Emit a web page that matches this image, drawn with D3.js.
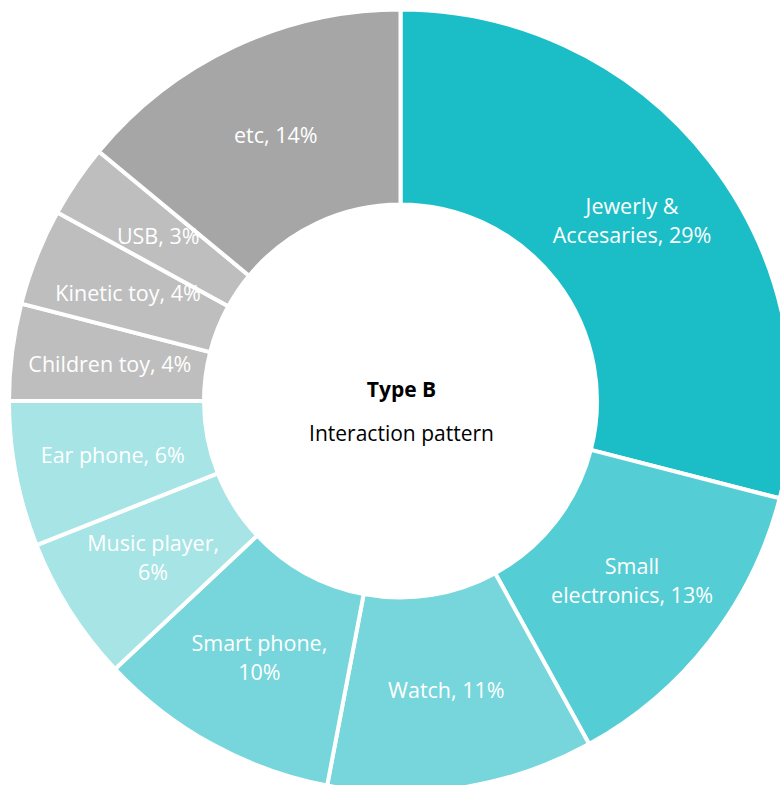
<!DOCTYPE html>
<html>
<head>
<meta charset="utf-8">
<script src="https://cdn.jsdelivr.net/npm/d3@7"></script>
<style>
  html, body { margin: 0; padding: 0; background: #fff; }
  svg { display: block; }
</style>
</head>
<body>
<svg id="chart" width="780" height="785"></svg>
<script>
// Share of products by category (percent)
const categories = [
  ["Jewerly &", "Accesaries, 29%"],
  ["Small", "electronics, 13%"],
  ["Watch, 11%"],
  ["Smart phone,", "10%"],
  ["Music player,", "6%"],
  ["Ear phone, 6%"],
  ["Children toy, 4%"],
  ["Kinetic toy, 4%"],
  ["USB, 3%"],
  ["etc, 14%"]
];
const values = [29, 13, 11, 10, 6, 6, 4, 4, 3, 14];
const colors = ["#1bbec6", "#55cdd4", "#76d6db", "#76d6db", "#a6e4e6",
                "#a6e4e6", "#bebebe", "#bebebe", "#bebebe", "#a6a6a6"];
const centerTitle = "Type B";
const centerSubtitle = "Interaction pattern";

const svg = d3.select("#chart");
const cx = 400.5, cy = 401;
const outerR = 391.5, innerR = 196.5;
const labelR = 293;

const g = svg.append("g").attr("transform", `translate(${cx},${cy})`);

const pie = d3.pie().sort(null).value(d => d)(values);
const arc = d3.arc().innerRadius(innerR).outerRadius(outerR);
const labelArc = d3.arc().innerRadius(labelR).outerRadius(labelR);

g.selectAll("path.slice")
  .data(pie)
  .join("path")
  .attr("class", "slice")
  .attr("d", arc)
  .attr("fill", (d, i) => colors[i])
  .attr("stroke", "#fff")
  .attr("stroke-width", 4)
  .attr("stroke-linejoin", "miter");

const font = "'Open Sans', 'Noto Sans', sans-serif";
const lineH = 29;

g.selectAll("text.lbl")
  .data(pie)
  .join("text")
  .attr("class", "lbl")
  .attr("transform", d => `translate(${labelArc.centroid(d)})`)
  .attr("text-anchor", "middle")
  .attr("fill", "#fff")
  .style("font-family", font)
  .style("font-size", "21.5px")
  .each(function (d, i) {
    const lines = categories[i];
    const t = d3.select(this);
    lines.forEach((line, k) => {
      t.append("tspan")
        .attr("x", 0)
        .attr("y", (k - (lines.length - 1) / 2) * lineH)
        .attr("dy", "0.35em")
        .text(line);
    });
  });

g.append("text")
  .attr("x", 1)
  .attr("y", -11)
  .attr("dy", "0.35em")
  .attr("text-anchor", "middle")
  .attr("fill", "#000")
  .style("font-family", font)
  .style("font-size", "21px")
  .style("font-weight", "bold")
  .text(centerTitle);

g.append("text")
  .attr("x", 1)
  .attr("y", 33)
  .attr("dy", "0.35em")
  .attr("text-anchor", "middle")
  .attr("fill", "#000")
  .style("font-family", font)
  .style("font-size", "21px")
  .text(centerSubtitle);
</script>
</body>
</html>
